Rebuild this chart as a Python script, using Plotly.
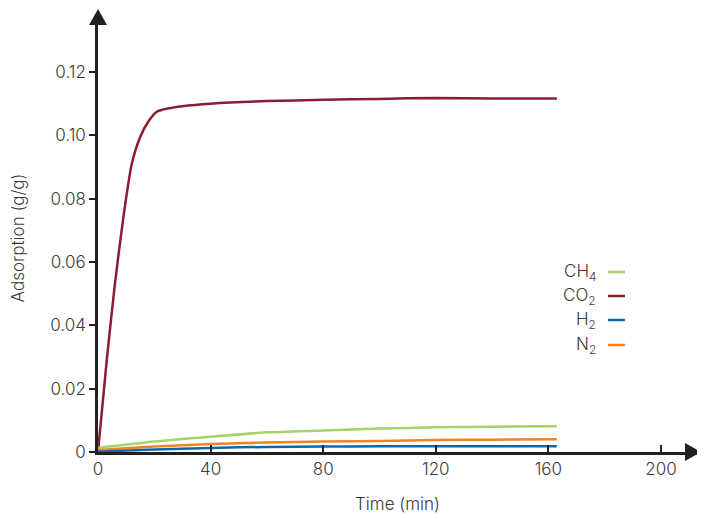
import plotly.graph_objects as go

# Data
t_co2 = [0, 3, 6, 9, 12, 15, 18, 21, 25, 30, 40, 60, 80, 100, 120, 140, 163]
co2 = [0, 0.028, 0.053, 0.074, 0.091, 0.0995, 0.1045, 0.1075, 0.1085, 0.1092, 0.110, 0.1108, 0.1112, 0.1115, 0.1118, 0.1116, 0.1116]

t_small = [0, 20, 40, 60, 80, 100, 120, 140, 163]
ch4 = [0.0013, 0.0033, 0.0048, 0.0062, 0.0068, 0.0074, 0.0078, 0.0080, 0.0081]
n2 = [0.0006, 0.0017, 0.0025, 0.0030, 0.0033, 0.0035, 0.0038, 0.0039, 0.0040]
h2 = [0.0001, 0.0008, 0.0013, 0.0016, 0.0017, 0.0018, 0.0018, 0.0018, 0.0018]

series_names = ["CH<sub>4</sub>", "CO<sub>2</sub>", "H<sub>2</sub>", "N<sub>2</sub>"]
colors = ["#a6d26b", "#8c1c2f", "#0b68ad", "#f5821f"]

x_ticks = [0, 40, 80, 120, 160, 200]
y_ticks = [0, 0.02, 0.04, 0.06, 0.08, 0.10, 0.12]
y_tick_text = ["0", "0.02", "0.04", "0.06", "0.08", "0.10", "0.12"]

x_max = 212.8
y_max = 0.13515

font = "Inter, 'Open Sans', sans-serif"
axis_col = "#231f20"
text_col = "#3a3a3a"

fig = go.Figure()
data = [(t_small, ch4), (t_co2, co2), (t_small, h2), (t_small, n2)]
order = [1, 0, 3, 2]
for i in order:
    xs, ys = data[i]
    fig.add_trace(go.Scatter(x=xs, y=ys, mode="lines",
                             line=dict(color=colors[i], width=2.5, shape="spline", smoothing=0.6),
                             showlegend=False, cliponaxis=False))

# Arrowheads at the ends of the axes (pixel-sized triangles anchored at the axis ends)
fig.add_shape(type="path", xref="paper", yref="paper", xsizemode="pixel", ysizemode="pixel",
              xanchor=0, yanchor=1, path="M -9,-1 L 9,-1 L 0,15 Z",
              fillcolor=axis_col, line=dict(width=0))
fig.add_shape(type="path", xref="paper", yref="paper", xsizemode="pixel", ysizemode="pixel",
              xanchor=1, yanchor=0, path="M -12,-9 L -12,9 L 4,0 Z",
              fillcolor=axis_col, line=dict(width=0))

# Custom legend (text on the left, line sample on the right)
leg_y = [272, 296, 320, 345]
plot_h = 428
plot_w = 599
for name, col, py in zip(series_names, colors, leg_y):
    yp = (452 - py) / plot_h
    fig.add_annotation(xref="paper", yref="paper", x=(598 - 98) / plot_w, y=yp,
                       text=name, showarrow=False, xanchor="right", yanchor="middle",
                       font=dict(family=font, size=17, color=text_col, weight=300))
    fig.add_shape(type="line", xref="paper", yref="paper",
                  x0=(608 - 98) / plot_w, x1=(625 - 98) / plot_w, y0=yp, y1=yp,
                  line=dict(color=col, width=2.5))

fig.update_layout(
    width=697, height=506,
    margin=dict(l=90, r=8, t=16, b=62),
    plot_bgcolor="white", paper_bgcolor="white",
    font=dict(family=font, size=17, color=text_col, weight=300),
    xaxis=dict(range=[0, x_max], tickvals=x_ticks, ticks="inside", ticklen=7, tickwidth=2, tickcolor=axis_col,
               showline=True, linecolor=axis_col, linewidth=2.5, showgrid=False, zeroline=False, automargin=False,
               title=dict(text="Time (min)", font=dict(size=17, weight=300), standoff=20),
               tickfont=dict(size=17, weight=300)),
    yaxis=dict(range=[0, y_max], tickvals=y_ticks, ticktext=y_tick_text, ticks="outside", ticklen=6, tickwidth=2,
               tickcolor=axis_col, showline=True, linecolor=axis_col, linewidth=2.5, showgrid=False, zeroline=False,
               automargin=False,
               title=dict(text="Adsorption (g/g)", font=dict(size=17, weight=300), standoff=24),
               tickfont=dict(size=17, weight=300)),
)

fig.write_html("out.html")
